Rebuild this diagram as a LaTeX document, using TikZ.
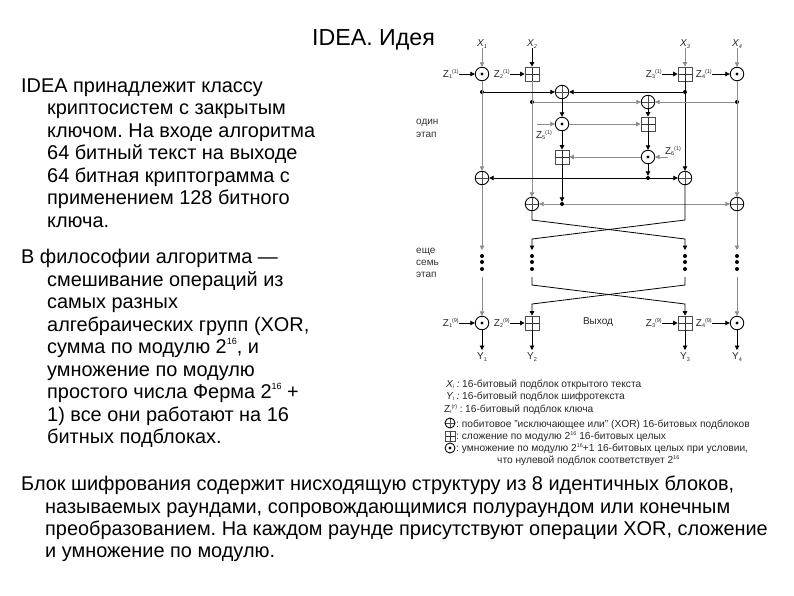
\documentclass[tikz,border=0pt]{standalone}
\usepackage{fontspec}
\setmainfont{Liberation Sans}
\usetikzlibrary{arrows.meta}
\newcommand{\lowr}[1]{\raisebox{-.3ex}{\fontsize{5.5}{6}\selectfont #1}}
\newcommand{\uppr}[1]{\raisebox{.7ex}{\fontsize{5.5}{6}\selectfont #1}}
\newcommand{\bsup}[1]{\raisebox{.8ex}{\fontsize{9}{10}\selectfont #1}}
\frenchspacing
\tikzset{
  tipped/.style={-{Triangle[length=4.5pt,width=4.5pt]}},
  blk/.style={draw=black,line width=.8pt},
  gry/.style={draw=black!45,line width=.7pt},
  opcirc/.style={circle,draw=black,line width=.9pt,minimum size=13.5pt,inner sep=0pt,fill=white},
  xorop/.style={opcirc,path picture={
     \draw[black!70,line width=.6pt] (path picture bounding box.north)--(path picture bounding box.south);
     \draw[black!70,line width=.6pt] (path picture bounding box.west)--(path picture bounding box.east);}},
  mulop/.style={opcirc,path picture={
     \fill[black] (path picture bounding box.center) circle (1.7pt);}},
  addop/.style={rectangle,draw=black!70,line width=.7pt,minimum size=14pt,inner sep=0pt,fill=white,path picture={
     \draw[black!80,line width=.6pt] (path picture bounding box.north)--(path picture bounding box.south);
     \draw[black!80,line width=.6pt] (path picture bounding box.west)--(path picture bounding box.east);}},
  jn/.style={circle,fill=black,inner sep=0pt,minimum size=4pt},
  lab/.style={inner sep=0pt,font=\fontsize{10}{11}\selectfont,text=black!85},
  sidelab/.style={inner sep=0pt,anchor=west,font=\fontsize{10}{11}\selectfont,text=black!80},
  leg/.style={anchor=base west,inner sep=0pt,font=\fontsize{10.2}{12}\selectfont,text=black!85},
  body/.style={anchor=base west,inner sep=0pt,font=\fontsize{19.9}{22}\selectfont},
  ttl/.style={inner sep=0pt,font=\fontsize{23.2}{26}\selectfont},
}
\begin{document}
\begin{tikzpicture}[x=1pt,y=-1pt]
\useasboundingbox (0,0) rectangle (794,595);
% title and text
\node[ttl,anchor=base west] (title) at (312,45) {IDEA. Идея};
\node[body] (p1a) at (21,92) {IDEA принадлежит классу};
\node[body] (p1b) at (47,114) {криптосистем с закрытым};
\node[body] (p1c) at (47,137) {ключом. На входе алгоритма};
\node[body] (p1d) at (47,159) {64 битный текст на выходе};
\node[body] (p1e) at (47,182) {64 битная криптограмма с};
\node[body] (p1f) at (47,204) {применением 128 битного};
\node[body] (p1g) at (47,227) {ключа.};
\node[body] (p2a) at (21,263) {В философии алгоритма —};
\node[body] (p2b) at (47,286) {смешивание операций из};
\node[body] (p2c) at (47,308) {самых разных};
\node[body] (p2d) at (47,331) {алгебраических групп (XOR,};
\node[body] (p2e) at (47,353) {сумма по модулю 2\bsup{16}, и};
\node[body] (p2f) at (47,376) {умножение по модулю};
\node[body] (p2g) at (47,398) {простого числа Ферма 2\bsup{16} +};
\node[body] (p2h) at (47,421) {1) все они работают на 16};
\node[body] (p2i) at (47,443) {битных подблоках.};
\node[body] (p3a) at (21,490) {Блок шифрования содержит нисходящую структуру из 8 идентичных блоков,};
\node[body] (p3b) at (45,513) {называемых раундами, сопровождающимися полураундом или конечным};
\node[body] (p3c) at (45,535) {преобразованием. На каждом раунде присутствуют операции XOR, сложение};
\node[body] (p3d) at (45,557) {и умножение по модулю.};
% top labels
\node[lab] (X1) at (482,44) {\itshape X\lowr{1}};
\node[lab] (X2) at (532,44) {\itshape X\lowr{2}};
\node[lab] (X3) at (685,44) {\itshape X\lowr{3}};
\node[lab] (X4) at (737,44) {\itshape X\lowr{4}};
% first row
\node[mulop] (m1) at (482,74) {};
\node[addop] (a2) at (532,74) {};
\node[addop] (a3) at (685,74) {};
\node[mulop] (m4) at (737,74) {};
\node[lab,anchor=east] (Z1) at (459,74) {Z\lowr{1}\uppr{(1)}};
\node[lab,anchor=east] (Z2) at (510,74) {Z\lowr{2}\uppr{(1)}};
\node[lab,anchor=east] (Z3) at (662,74) {Z\lowr{3}\uppr{(1)}};
\node[lab,anchor=east] (Z4) at (712,74) {Z\lowr{4}\uppr{(1)}};
% MA structure
\node[xorop] (xa) at (562,92) {};
\node[xorop] (xb) at (648,102) {};
\node[mulop] (m5) at (562,124) {};
\node[addop] (a6) at (648,124) {};
\node[addop] (a5) at (562,157) {};
\node[mulop] (m6) at (648,157) {};
\node[xorop] (xl) at (482,178) {};
\node[xorop] (xr) at (685,178) {};
\node[xorop] (xs) at (532,204) {};
\node[xorop] (xt) at (737,204) {};
\node[lab] (Z5) at (544,135) {Z\lowr{5}\uppr{(1)}};
\node[lab] (Z6) at (673,151) {Z\lowr{6}\uppr{(1)}};
\coordinate (z5s) at (537,124);
\coordinate (z6s) at (668,157);
% junctions
\node[jn] (d1) at (482,92) {};
\node[jn] (d3) at (685,92) {};
\node[jn] (d2) at (532,102) {};
\node[jn] (d4) at (737,102) {};
\node[jn] (d5) at (648,178) {};
\node[jn] (d6) at (562,204) {};
% side labels
\node[sidelab] (one1) at (416,123) {один};
\node[sidelab] (one2) at (416,135) {этап};
\node[sidelab] (sev1) at (416,252) {еще};
\node[sidelab] (sev2) at (416,263) {семь};
\node[sidelab] (sev3) at (416,275) {этап};
\node[lab] (out) at (598,322) {Выход};
% dotted section
\foreach \n/\xx in {c/482,e/532,f/685,g/737}{
  \coordinate (\n t) at (\xx,250);
  \node[jn] (\n 1) at (\xx,256) {};
  \node[jn] (\n 2) at (\xx,262) {};
  \node[jn] (\n 3) at (\xx,269) {};
  \coordinate (\n b) at (\xx,277);
}
\coordinate (s2a) at (532,220);
\coordinate (s2b) at (685,239);
\coordinate (s3a) at (685,220);
\coordinate (s3b) at (532,239);
\coordinate (s2c) at (532,285);
\coordinate (s2d) at (685,304);
\coordinate (s3c) at (685,285);
\coordinate (s3d) at (532,304);
% last row
\node[mulop] (m9) at (482,323) {};
\node[addop] (a9) at (532,323) {};
\node[addop] (b9) at (685,323) {};
\node[mulop] (n9) at (737,323) {};
\node[lab,anchor=east] (W1) at (459,323) {Z\lowr{1}\uppr{(9)}};
\node[lab,anchor=east] (W2) at (510,323) {Z\lowr{2}\uppr{(9)}};
\node[lab,anchor=east] (W3) at (662,323) {Z\lowr{3}\uppr{(9)}};
\node[lab,anchor=east] (W4) at (712,323) {Z\lowr{4}\uppr{(9)}};
\node[lab] (Y1) at (482,357) {Y\lowr{1}};
\node[lab] (Y2) at (532,357) {Y\lowr{2}};
\node[lab] (Y3) at (685,357) {Y\lowr{3}};
\node[lab] (Y4) at (737,357) {Y\lowr{4}};
% connectors: input
\draw[gry,tipped] (X1) -- (m1);
\draw[blk,tipped] (X2) -- (a2);
\draw[gry,tipped] (X3) -- (a3);
\draw[gry,tipped] (X4) -- (m4);
\draw[blk,tipped] (Z1) -- (m1);
\draw[blk,tipped] (Z2) -- (a2);
\draw[blk,tipped] (Z3) -- (a3);
\draw[blk,tipped] (Z4) -- (m4);
% verticals
\draw[gry,tipped] (m1) -- (xl);
\draw[gry,tipped] (a2) -- (xs);
\draw[blk,tipped] (a3) -- (xr);
\draw[gry,tipped] (m4) -- (xt);
\draw[blk,tipped] (d1) -- (xa);
\draw[blk,tipped] (d3) -- (xa);
\draw[gry,tipped] (d2) -- (xb);
\draw[gry,tipped] (d4) -- (xb);
\draw[blk,tipped] (xa) -- (m5);
\draw[blk,tipped] (xb) -- (a6);
\draw[gry,tipped] (m5) -- (a6);
\draw[blk,tipped] (a6) -- (m6);
\draw[blk,tipped] (m5) -- (a5);
\draw[gry,tipped] (m6) -- (a5);
\draw[gry,tipped] (z5s) -- (m5);
\draw[gry,tipped] (z6s) -- (m6);
\draw[blk,tipped] (m6) -- (d5);
\draw[blk,tipped] (a5) -- (d6);
\draw[blk,tipped] (d5) -- (xl);
\draw[blk,tipped] (d5) -- (xr);
\draw[gry,tipped] (d6) -- (xs);
\draw[gry,tipped] (d6) -- (xt);
% crossing and dotted part
\draw[gry,tipped] (xl) -- (ct);
\draw[gry,tipped] (xt) -- (gt);
\draw[blk,tipped] (xs) -- (s2a) -- (s2b) -- (ft);
\draw[blk,tipped] (xr) -- (s3a) -- (s3b) -- (et);
\draw[gry,tipped] (cb) -- (m9);
\draw[gry,tipped] (gb) -- (n9);
\draw[blk,tipped] (eb) -- (s2c) -- (s2d) -- (b9);
\draw[blk,tipped] (fb) -- (s3c) -- (s3d) -- (a9);
% outputs
\draw[blk,tipped] (W1) -- (m9);
\draw[blk,tipped] (W2) -- (a9);
\draw[blk,tipped] (W3) -- (b9);
\draw[blk,tipped] (W4) -- (n9);
\draw[blk,tipped,shorten >=2.5pt] (m9) -- (Y1);
\draw[blk,tipped,shorten >=2.5pt] (a9) -- (Y2);
\draw[blk,tipped,shorten >=2.5pt] (b9) -- (Y3);
\draw[blk,tipped,shorten >=2.5pt] (n9) -- (Y4);
% legend
\node[leg,anchor=base east] (l1k) at (460,387) {\itshape X\lowr{i} :};
\node[leg] (l1) at (462,387) {16-битовый подблок открытого текста};
\node[leg,anchor=base east] (l2k) at (460,399) {\itshape Y\lowr{i} :};
\node[leg] (l2) at (462,399) {16-битовый подблок шифротекста};
\node[leg,anchor=base east] (l3k) at (463,412) {Z\lowr{i}\uppr{(r)} :};
\node[leg] (l3) at (465,412) {16-битовый подблок ключа};
\node[xorop,minimum size=10pt] (l4s) at (450,423) {};
\node[leg] (l4) at (456,427) {: побитовое "исключающее или" (XOR) 16-битовых подблоков};
\node[addop,minimum size=10pt] (l5s) at (450,436) {};
\node[leg] (l5) at (456,439) {: сложение по модулю 2\uppr{16} 16-битовых целых};
\node[mulop,minimum size=10pt] (l6s) at (450,448) {};
\node[leg] (l6) at (456,451) {: умножение по модулю 2\uppr{16}+1 16-битовых целых при условии,};
\node[leg] (l7) at (497,463) {что нулевой подблок соответствует 2\uppr{16}};
\end{tikzpicture}
\end{document}
